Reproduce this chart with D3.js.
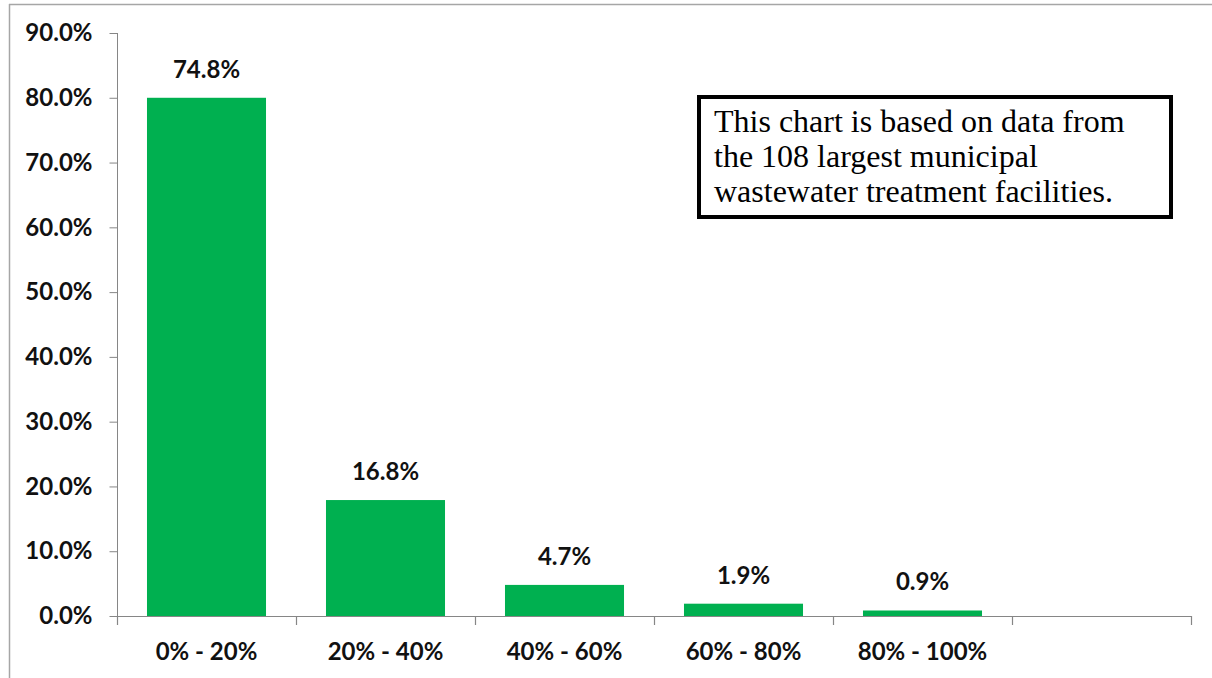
<!DOCTYPE html>
<html>
<head>
<meta charset="utf-8">
<script src="https://cdn.jsdelivr.net/npm/d3@7/dist/d3.min.js"></script>
<style>
  html, body { margin: 0; padding: 0; background: #fff; }
  svg { display: block; }
</style>
</head>
<body>
<svg id="chart" width="1212" height="678"></svg>
<script>
// ---- data ----
const categories = ["0% - 20%", "20% - 40%", "40% - 60%", "60% - 80%", "80% - 100%", ""];
const barValues = [80.0, 17.9, 4.8, 1.9, 0.85];          // bar heights as drawn
const dataLabels = ["74.8%", "16.8%", "4.7%", "1.9%", "0.9%"]; // printed labels
const yTicks = [0, 10, 20, 30, 40, 50, 60, 70, 80, 90];
const noteLines = [
  "This chart is based on data from",
  "the 108 largest municipal",
  "wastewater treatment facilities."
];

// ---- layout ----
const svg = d3.select("#chart");
const labelFont = "Lato, 'Open Sans', sans-serif";
const axisColor = "#868686";
const labelSize = 24;

const x = d3.scaleBand()
  .domain(categories)
  .range([117, 1191])
  .paddingInner(0.335)
  .paddingOuter(0.1675);

const y = d3.scaleLinear().domain([0, 90]).range([616, 33]);

// outer frame (top + left)
svg.append("line").attr("x1", 9).attr("x2", 1212).attr("y1", 4.5).attr("y2", 4.5)
  .attr("stroke", "#a6a6a6").attr("stroke-width", 1.5);
svg.append("line").attr("x1", 9.5).attr("x2", 9.5).attr("y1", 4).attr("y2", 678)
  .attr("stroke", "#a6a6a6").attr("stroke-width", 1.5);

// y axis
const yAxis = svg.append("g")
  .attr("transform", "translate(117.5,0)")
  .call(d3.axisLeft(y).tickValues(yTicks).tickSize(8).tickPadding(17)
    .tickFormat(d => d.toFixed(1) + "%"));
yAxis.select(".domain").attr("stroke", axisColor).attr("d", `M0,${y(90)}V${y(0)}`);
yAxis.selectAll(".tick line").attr("stroke", axisColor);
yAxis.selectAll(".tick text")
  .attr("font-family", labelFont).attr("font-weight", "bold")
  .attr("font-size", labelSize).attr("fill", "#111");

// bars
svg.append("g").selectAll("rect")
  .data(barValues)
  .join("rect")
  .attr("x", (d, i) => x(categories[i]))
  .attr("width", x.bandwidth())
  .attr("y", d => y(d))
  .attr("height", d => y(0) - y(d))
  .attr("fill", "#00B050");

// data labels
svg.append("g").selectAll("text")
  .data(dataLabels)
  .join("text")
  .attr("x", (d, i) => x(categories[i]) + x.bandwidth() / 2)
  .attr("y", (d, i) => y(barValues[i]) - 20)
  .attr("text-anchor", "middle")
  .attr("font-family", labelFont).attr("font-weight", "bold")
  .attr("font-size", labelSize).attr("fill", "#111")
  .text(d => d);

// x axis line + boundary ticks
const xAxisG = svg.append("g");
const step = x.step();
const firstBoundary = x(categories[0]) - step * x.paddingInner() / 2;
xAxisG.append("line")
  .attr("x1", firstBoundary).attr("x2", firstBoundary + step * categories.length)
  .attr("y1", y(0) + 0.5).attr("y2", y(0) + 0.5)
  .attr("stroke", axisColor).attr("stroke-width", 1.2);
xAxisG.selectAll("line.tick")
  .data(d3.range(categories.length + 1))
  .join("line").attr("class", "tick")
  .attr("x1", i => firstBoundary + step * i + 0.5)
  .attr("x2", i => firstBoundary + step * i + 0.5)
  .attr("y1", y(0)).attr("y2", y(0) + 9)
  .attr("stroke", axisColor).attr("stroke-width", 1.2);
xAxisG.selectAll("text")
  .data(categories)
  .join("text")
  .attr("x", d => x(d) + x.bandwidth() / 2)
  .attr("y", 660)
  .attr("text-anchor", "middle")
  .attr("font-family", labelFont).attr("font-weight", "bold")
  .attr("font-size", labelSize).attr("fill", "#111")
  .text(d => d);

// annotation box
const note = svg.append("g");
note.append("rect")
  .attr("x", 699).attr("y", 97).attr("width", 472).attr("height", 120)
  .attr("fill", "#fff").attr("stroke", "#000").attr("stroke-width", 4);
note.selectAll("text")
  .data(noteLines)
  .join("text")
  .attr("x", 714)
  .attr("y", (d, i) => 132 + i * 35)
  .attr("font-family", "'Liberation Serif', 'Times New Roman', serif")
  .attr("font-size", 32).attr("fill", "#000")
  .text(d => d);
</script>
</body>
</html>
